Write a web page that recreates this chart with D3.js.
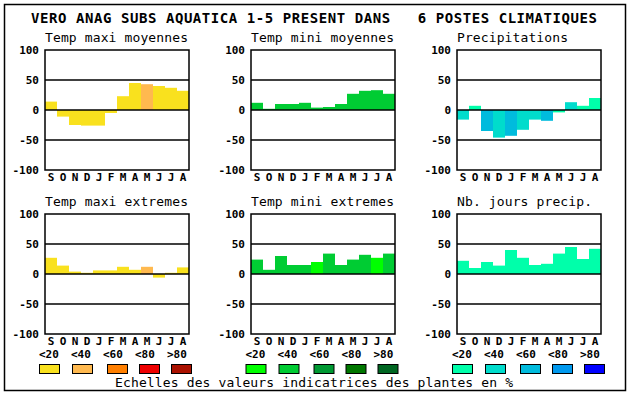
<!DOCTYPE html>
<html>
<head>
<meta charset="utf-8">
<script src="https://cdn.jsdelivr.net/npm/d3@7"></script>
<style>
body{margin:0;background:#fff;}
text{font-family:"DejaVu Sans Mono",monospace;}
</style>
</head>
<body>
<svg id="chart" width="630" height="394"></svg>
<script>
// data
var months=['S','O','N','D','J','F','M','A','M','J','J','A'];
var ticks=[100,50,0,-50,-100];
var classes=['<20','<40','<60','<80','>80'];
var yellows=['#f9e11e','#ffb94f','#ff7f00','#ee0000','#aa1100'];
var greens=['#00ff00','#00cc33','#009933','#007700','#006622'];
var blues=['#00ffaa','#00dccc','#00bbdd','#0099ee','#0000ff'];

var tmaxMoy=[14,-11,-25,-26,-26,-5,23,45,43,40,37,32];
var tmaxMoyCls=[0,0,0,0,0,0,0,0,1,0,0,0];
var tminMoy=[12,2,10,10,12,4,5,10,27,32,33,27];
var tminMoyCls=[1,1,1,1,1,1,1,1,1,1,1,1];
var precip=[-16,7,-35,-46,-43,-33,-16,-18,-4,13,7,20];
var precipCls=[1,0,2,1,2,1,1,2,0,1,0,0];
var tmaxExt=[27,14,4,2,6,6,12,7,12,-6,2,11];
var tmaxExtCls=[0,0,0,0,0,0,0,0,1,0,0,0];
var tminExt=[24,7,30,15,15,20,34,15,24,32,27,34];
var tminExtCls=[1,1,1,1,1,0,1,1,1,1,0,1];
var nbJours=[22,10,20,14,40,27,15,17,34,45,25,42];
var nbJoursCls=[0,0,0,0,0,0,0,0,0,0,0,0];

var title='VERO ANAG SUBS AQUATICA 1-5 PRESENT DANS   6 POSTES CLIMATIQUES';
var caption='Echelles des valeurs indicatrices des plantes en %';

var panels=[
  {name:'Temp maxi moyennes',vals:tmaxMoy,cls:tmaxMoyCls,pal:yellows,col:0,row:0},
  {name:'Temp mini moyennes',vals:tminMoy,cls:tminMoyCls,pal:greens,col:1,row:0},
  {name:'Precipitations',vals:precip,cls:precipCls,pal:blues,col:2,row:0},
  {name:'Temp maxi extremes',vals:tmaxExt,cls:tmaxExtCls,pal:yellows,col:0,row:1},
  {name:'Temp mini extremes',vals:tminExt,cls:tminExtCls,pal:greens,col:1,row:1},
  {name:'Nb. jours precip.',vals:nbJours,cls:nbJoursCls,pal:blues,col:2,row:1}
];

var svg=d3.select('#chart');
svg.append('rect').attr('x',4.5).attr('y',4.5).attr('width',621).attr('height',386)
  .attr('fill','none').attr('stroke','#000').attr('stroke-width',1.5);

svg.append('text').attr('x',31).attr('y',23).attr('font-size',14).attr('font-weight','bold')
  .attr('textLength',566).attr('lengthAdjust','spacing').attr('xml:space','preserve')
  .style('white-space','pre').text(title);

var pw=144, ph=120;
panels.forEach(function(p){
  var left=45+p.col*206, top=p.row==0?50:214;
  var g=svg.append('g').attr('transform','translate('+left+','+top+')');
  var x=d3.scaleBand().domain(d3.range(12)).range([0,pw]).padding(0);
  var y=d3.scaleLinear().domain([-100,100]).range([ph,0]);

  g.selectAll('rect.bar').data(p.vals).enter().append('rect')
    .attr('x',(d,i)=>x(i)).attr('width',x.bandwidth())
    .attr('y',d=>y(Math.max(0,d))).attr('height',d=>Math.abs(y(d)-y(0)))
    .attr('fill',(d,i)=>p.pal[p.cls[i]]);

  g.selectAll('line.grid').data([50,0,-50]).enter().append('line')
    .attr('x1',0).attr('x2',pw).attr('y1',d=>y(d)).attr('y2',d=>y(d))
    .attr('stroke','#000').attr('stroke-width',1.6);
  g.append('rect').attr('width',pw).attr('height',ph)
    .attr('fill','none').attr('stroke','#000').attr('stroke-width',1.5);

  g.selectAll('text.tick').data(ticks).enter().append('text')
    .attr('x',-6).attr('y',d=>y(d)).attr('dy','0.35em').attr('text-anchor','end')
    .attr('font-size',11).attr('font-weight','bold').text(d=>d);

  g.selectAll('text.month').data(months).enter().append('text')
    .attr('x',(d,i)=>x(i)+x.bandwidth()/2).attr('y',ph+11).attr('text-anchor','middle')
    .attr('font-size',11).attr('font-weight','bold').text(d=>d);

  g.append('text').attr('x',0).attr('y',-8).attr('font-size',13)
    .attr('textLength',p.name.length*8-1).attr('lengthAdjust','spacing').text(p.name);
});

// legends
var boxOff=[0,33,68,100,132], labOff=[0,32,64,96,128];
[yellows,greens,blues].forEach(function(pal,k){
  var gx=39+k*206.5;
  var lg=svg.append('g').attr('transform','translate('+gx+',0)');
  lg.selectAll('text').data(classes).enter().append('text')
    .attr('x',(d,i)=>labOff[i]).attr('y',358).attr('font-size',11).attr('font-weight','bold')
    .text(d=>d);
  lg.selectAll('rect').data(pal).enter().append('rect')
    .attr('x',(d,i)=>boxOff[i]+0.5).attr('y',364.5).attr('width',20).attr('height',9)
    .attr('fill',d=>d).attr('stroke','#000').attr('stroke-width',1);
});
svg.append('text').attr('x',115).attr('y',387).attr('font-size',13)
  .attr('textLength',398).attr('lengthAdjust','spacing').text(caption);
</script>
</body>
</html>
